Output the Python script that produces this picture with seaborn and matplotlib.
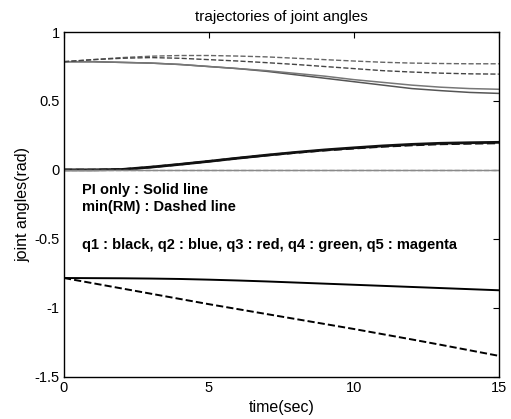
import numpy as np
import pandas as pd
import matplotlib
matplotlib.use("Agg")
import matplotlib.pyplot as plt
import seaborn as sns

# time axis (sec)
t = [0, 1, 2, 3, 4, 5, 6, 7, 8, 9, 10, 11, 12, 13, 14, 15]

# PI only (solid lines)
q1_pi = [-0.785, -0.786, -0.787, -0.789, -0.792, -0.797, -0.803, -0.810, -0.818, -0.826, -0.834, -0.842, -0.850, -0.858, -0.866, -0.874]
q2_pi = [0.0, 0.0, 0.003, 0.02, 0.04, 0.062, 0.085, 0.107, 0.127, 0.145, 0.16, 0.174, 0.185, 0.193, 0.197, 0.2]
q3_pi = [0.785, 0.785, 0.78, 0.775, 0.765, 0.75, 0.735, 0.715, 0.69, 0.665, 0.64, 0.615, 0.59, 0.575, 0.562, 0.555]
q4_pi = [0.0] * 16
q5_pi = [0.785, 0.785, 0.78, 0.775, 0.765, 0.75, 0.735, 0.72, 0.70, 0.68, 0.655, 0.635, 0.615, 0.60, 0.59, 0.585]

# min(RM) (dashed lines)
q1_rm = [-0.785, -0.823, -0.861, -0.899, -0.937, -0.975, -1.011, -1.047, -1.083, -1.119, -1.155, -1.193, -1.231, -1.270, -1.310, -1.350]
q2_rm = [0.0, 0.0, 0.003, 0.02, 0.04, 0.062, 0.085, 0.106, 0.125, 0.142, 0.156, 0.169, 0.179, 0.187, 0.191, 0.194]
q3_rm = [0.785, 0.80, 0.815, 0.825, 0.83, 0.83, 0.826, 0.82, 0.81, 0.80, 0.79, 0.781, 0.775, 0.772, 0.77, 0.77]
q4_rm = [0.0] * 16
q5_rm = [0.785, 0.80, 0.81, 0.815, 0.81, 0.80, 0.79, 0.778, 0.765, 0.75, 0.735, 0.72, 0.71, 0.702, 0.697, 0.695]

y_ticks = [-1.5, -1, -0.5, 0, 0.5, 1]
y_tick_labels = ["-1.5", "-1", "-0.5", "0", "0.5", "1"]
x_ticks = [0, 5, 10, 15]

sns.set_theme(style="white")
plt.rcParams['font.family'] = ['Liberation Sans', 'DejaVu Sans']
plt.rcParams['text.color'] = 'black'
plt.rcParams['axes.labelcolor'] = 'black'

fig = plt.figure(figsize=(5.11, 4.19), dpi=100)
ax = fig.add_axes([0.1252, 0.1014, 0.851, 0.822])

# scanned figure -> greyscale rendering of the coloured lines
series = [
    (q1_pi, '-', '#000000', 1.4),
    (q1_rm, '--', '#000000', 1.4),
    (q2_pi, '-', '#111111', 2.0),
    (q2_rm, '--', '#111111', 1.6),
    (q4_pi, '-', '#8a8a8a', 1.0),
    (q4_rm, '--', '#8a8a8a', 1.0),
    (q3_pi, '-', '#555555', 1.1),
    (q5_pi, '-', '#777777', 1.1),
    (q3_rm, '--', '#666666', 1.0),
    (q5_rm, '--', '#444444', 1.0),
]
for vals, ls, col, lw in series:
    df = pd.DataFrame({'t': t, 'q': vals})
    sns.lineplot(data=df, x='t', y='q', ax=ax, color=col, linestyle=ls, linewidth=lw)

ax.set_xlim(0, 15)
ax.set_ylim(-1.5, 1)
ax.set_xticks(x_ticks)
ax.set_yticks(y_ticks)
ax.set_yticklabels(y_tick_labels)
ax.tick_params(direction='in', length=4, width=0.8, top=True, right=True,
               labelsize=10.5, colors='black', pad=3)
for sp in ax.spines.values():
    sp.set_color('black')
    sp.set_linewidth(1.0)

ax.set_title('trajectories of joint angles', fontsize=11, pad=8, color='black')
ax.set_xlabel('time(sec)', fontsize=11.5, labelpad=4)
ax.set_ylabel('joint angles(rad)', fontsize=11.5, labelpad=3)

ax.text(0.041, 0.541, 'PI only : Solid line', transform=ax.transAxes,
        fontsize=10.5, fontweight='bold', va='center', color='black')
ax.text(0.041, 0.492, 'min(RM) : Dashed line', transform=ax.transAxes,
        fontsize=10.5, fontweight='bold', va='center', color='black')
ax.text(0.041, 0.382, 'q1 : black, q2 : blue, q3 : red, q4 : green, q5 : magenta',
        transform=ax.transAxes, fontsize=10.5, fontweight='bold', va='center', color='black')

fig.savefig('out.png', dpi=100)
